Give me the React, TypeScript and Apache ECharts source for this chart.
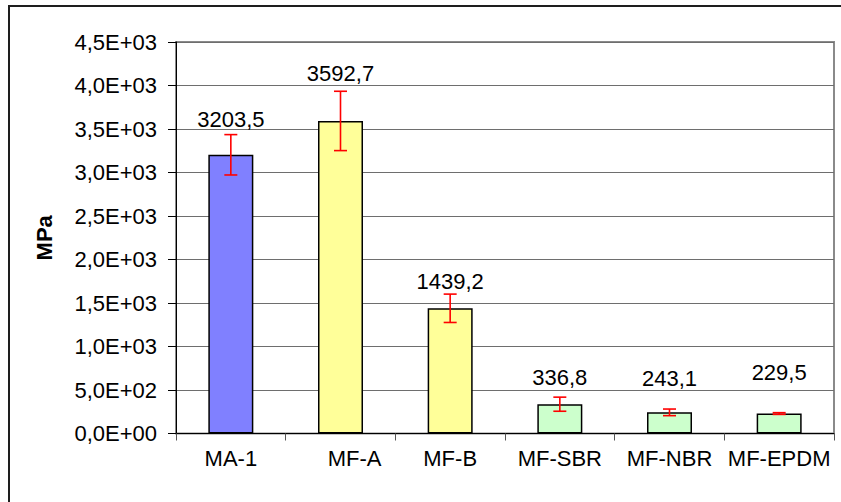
import React, { useEffect, useRef } from "react";
import * as echarts from "echarts";

const categories = ["MA-1", "MF-A", "MF-B", "MF-SBR", "MF-NBR", "MF-EPDM"];
const values = [3203.5, 3592.7, 1439.2, 336.8, 243.1, 229.5];
const errors = [232, 341, 163, 81, 38, 10];
const barColors = ["#8080FF", "#FFFF99", "#FFFF99", "#CCFFCC", "#CCFFCC", "#CCFFCC"];
const yTicks = { min: 0, max: 4500, interval: 500 };

// style-only: extra vertical lift (px) of each value label above its bar top
const labelLift = [24, 36, 16, 16, 23, 30];

function sci(v: number): string {
  if (v === 0) return "0,0E+00";
  const e = Math.floor(Math.log10(v) + 1e-9);
  const m = v / Math.pow(10, e);
  return m.toFixed(1).replace(".", ",") + "E+" + String(e).padStart(2, "0");
}

export default function App() {
  const ref = useRef<HTMLDivElement>(null);
  useEffect(() => {
    document.body.style.margin = "0";
    const chart = echarts.init(ref.current!, null, { renderer: "svg" });
    const font = "'Liberation Sans', Arial, sans-serif";
    chart.setOption({
      animation: false,
      backgroundColor: "#ffffff",
      textStyle: { fontFamily: font },
      grid: {
        left: 176,
        top: 42,
        right: 7,
        bottom: 68.5,
        show: true,
        borderColor: "#8a8a8a",
        borderWidth: 2,
        backgroundColor: "transparent",
      },
      graphic: [
        {
          type: "rect",
          shape: { x: 9, y: 6, width: 1200, height: 1200 },
          style: { fill: "none", stroke: "#1e1e1e", lineWidth: 2 },
          silent: true,
        },
      ],
      xAxis: {
        type: "category",
        data: categories,
        axisLine: { lineStyle: { color: "#000", width: 1 } },
        axisTick: { show: true, length: 7, lineStyle: { color: "#555" } },
        axisLabel: {
          interval: 0,
          color: "#000",
          fontSize: 22,
          fontFamily: font,
          margin: 14,
          formatter: (v: string) => (v === "MF-A" ? "{a|" + v + "}" : v),
          rich: { a: { fontSize: 22, fontFamily: font, color: "#000", padding: [0, 0, 0, 28] } },
        },
      },
      yAxis: {
        type: "value",
        min: yTicks.min,
        max: yTicks.max,
        interval: yTicks.interval,
        name: "MPa",
        nameLocation: "middle",
        nameRotate: 90,
        nameGap: 121,
        nameTextStyle: { fontSize: 22, fontWeight: "bold", color: "#000", fontFamily: font },
        axisLine: { show: true, lineStyle: { color: "#000", width: 1 } },
        axisTick: { show: true, length: 8, lineStyle: { color: "#000" } },
        axisLabel: { color: "#000", fontSize: 22, fontFamily: font, margin: 19, formatter: sci },
        splitLine: { show: true, lineStyle: { color: "#6e6e6e", width: 1 } },
      },
      series: [
        {
          type: "bar",
          barWidth: 45,
          data: values.map((v, i) => ({
            value: v,
            itemStyle: { color: barColors[i], borderColor: "#000", borderWidth: 1.5 },
            label: { offset: [0, -labelLift[i]] },
          })),
          label: {
            show: true,
            position: "top",
            distance: 0,
            color: "#000",
            fontSize: 22,
            fontFamily: font,
            formatter: (p: any) => p.value.toFixed(1).replace(".", ","),
          },
          z: 2,
        },
        {
          type: "custom",
          z: 5,
          data: values.map((v, i) => [i, v, errors[i]]),
          renderItem: (params: any, api: any) => {
            const i = api.value(0);
            const v = api.value(1);
            const e = api.value(2);
            const top = api.coord([i, v + e]);
            const bot = api.coord([i, v - e]);
            const x = top[0];
            const half = 6.5;
            const style = { stroke: "#FF0000", lineWidth: 1.6 };
            return {
              type: "group",
              children: [
                { type: "line", shape: { x1: x, y1: top[1], x2: x, y2: bot[1] }, style },
                { type: "line", shape: { x1: x - half, y1: top[1], x2: x + half, y2: top[1] }, style },
                { type: "line", shape: { x1: x - half, y1: bot[1], x2: x + half, y2: bot[1] }, style },
              ],
            };
          },
        },
      ],
    });
    return () => chart.dispose();
  }, []);
  return <div ref={ref} style={{ width: 841, height: 502 }} />;
}
